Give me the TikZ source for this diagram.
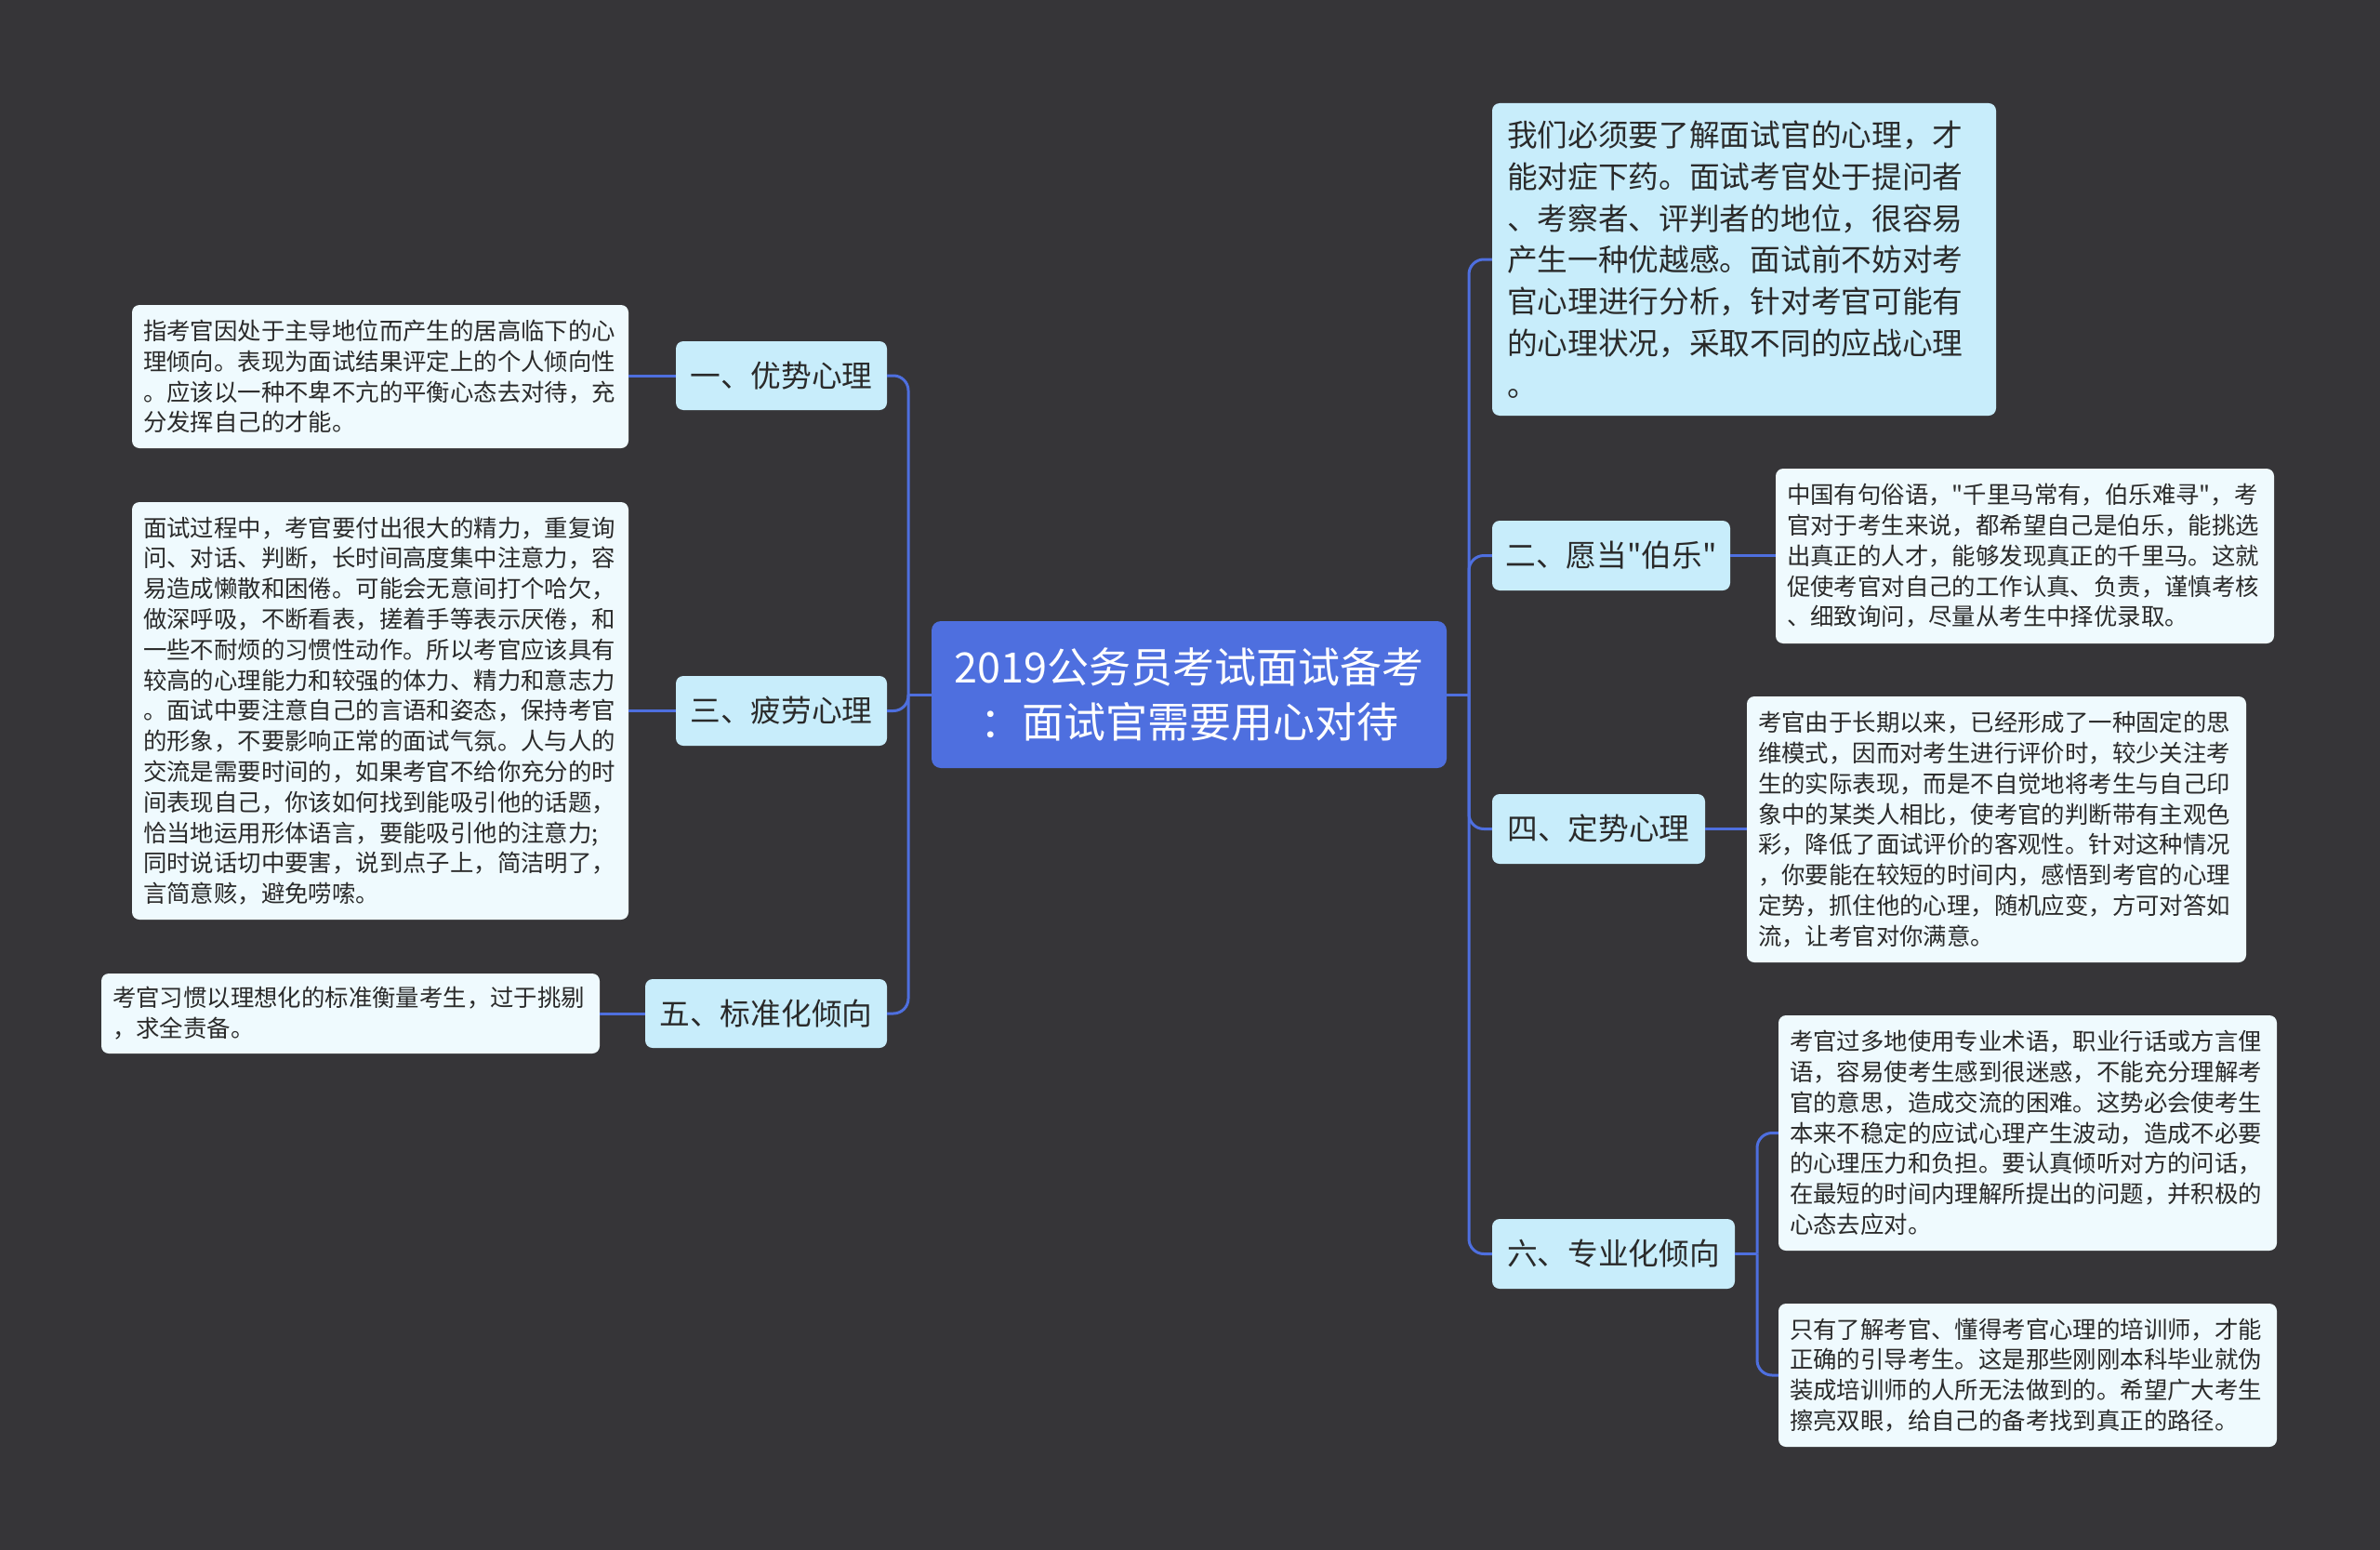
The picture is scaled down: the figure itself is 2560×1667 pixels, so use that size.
\documentclass[tikz,border=0pt]{standalone}
\usepackage{fontspec}
\setmainfont{Noto Sans CJK SC}
\newfontfamily\cjk{Noto Sans CJK SC}
\definecolor{bgc}{HTML}{363538}
\definecolor{rootf}{HTML}{4E6FDF}
\definecolor{linec}{HTML}{4E6FDF}
\definecolor{branchf}{HTML}{C8EDFB}
\definecolor{leaff}{HTML}{EFFAFE}
\definecolor{darkt}{HTML}{2A2A2A}
\tikzset{
  conn/.style={draw=linec, line width=3pt, rounded corners=16pt},
  rootbox/.style={fill=rootf, text=white, rounded corners=10pt, inner sep=0pt, align=center,
    font=\cjk\fontsize{45}{59}\selectfont},
  branchbox/.style={fill=branchf, text=darkt, rounded corners=8pt, inner sep=0pt, align=center,
    font=\cjk\fontsize{32.7}{40}\selectfont},
  topbox/.style={fill=branchf, text=darkt, rounded corners=8pt, inner xsep=16pt, inner ysep=0pt, align=left,
    font=\cjk\fontsize{32.7}{44.8}\selectfont},
  leafbox/.style={fill=leaff, text=darkt, rounded corners=8pt, inner xsep=12pt, inner ysep=0pt, align=left,
    font=\cjk\fontsize{25.4}{32.8}\selectfont},
}
\begin{document}
\begin{tikzpicture}[x=1pt,y=-1pt]
\fill[bgc] (0,0) rectangle (2560,1667);
\useasboundingbox (0,0) rectangle (2560,1667);

% root
\node[rootbox, minimum width=554pt, minimum height=158pt] (root) at (1279,747)
  {2019公务员考试面试备考\\：面试官需要用心对待};

% left branches
\node[branchbox, minimum width=227pt, minimum height=74pt] (b1) at (840.5,404) {一、优势心理};
\node[branchbox, minimum width=227pt, minimum height=75pt] (b3) at (840.5,764.5) {三、疲劳心理};
\node[branchbox, minimum width=260pt, minimum height=74pt] (b5) at (824,1090) {五、标准化倾向};

% right branches
\node[topbox, text width=510pt, minimum height=336pt] (t0) at (1876,279)
  {我们必须要了解面试官的心理，才\\能对症下药。面试考官处于提问者\\、考察者、评判者的地位，很容易\\产生一种优越感。面试前不妨对考\\官心理进行分析，针对考官可能有\\的心理状况，采取不同的应战心理\\。};
\node[branchbox, minimum width=256pt, minimum height=75pt] (b2) at (1733,597.5) {二、愿当"伯乐"};
\node[branchbox, minimum width=229pt, minimum height=75pt] (b4) at (1719.5,891.5) {四、定势心理};
\node[branchbox, minimum width=261pt, minimum height=75pt] (b6) at (1735.5,1348.5) {六、专业化倾向};

% left leaves
\node[leafbox, text width=510pt, minimum height=154pt] (l1) at (409,405)
  {指考官因处于主导地位而产生的居高临下的心\\理倾向。表现为面试结果评定上的个人倾向性\\。应该以一种不卑不亢的平衡心态去对待，充\\分发挥自己的才能。};
\node[leafbox, text width=510pt, minimum height=449pt] (l3) at (409,764.5)
  {面试过程中，考官要付出很大的精力，重复询\\问、对话、判断，长时间高度集中注意力，容\\易造成懒散和困倦。可能会无意间打个哈欠，\\做深呼吸，不断看表，搓着手等表示厌倦，和\\一些不耐烦的习惯性动作。所以考官应该具有\\较高的心理能力和较强的体力、精力和意志力\\。面试中要注意自己的言语和姿态，保持考官\\的形象，不要影响正常的面试气氛。人与人的\\交流是需要时间的，如果考官不给你充分的时\\间表现自己，你该如何找到能吸引他的话题，\\恰当地运用形体语言，要能吸引他的注意力;\\同时说话切中要害，说到点子上，简洁明了，\\言简意赅，避免唠嗦。};
\node[leafbox, text width=512pt, minimum height=86pt] (l5) at (377,1090)
  {考官习惯以理想化的标准衡量考生，过于挑剔\\，求全责备。};

% right leaves
\node[leafbox, text width=512pt, minimum height=188pt] (l2) at (2178,598)
  {中国有句俗语，"千里马常有，伯乐难寻"，考\\官对于考生来说，都希望自己是伯乐，能挑选\\出真正的人才，能够发现真正的千里马。这就\\促使考官对自己的工作认真、负责，谨慎考核\\、细致询问，尽量从考生中择优录取。};
\node[leafbox, text width=513pt, minimum height=286pt] (l4) at (2147.5,892)
  {考官由于长期以来，已经形成了一种固定的思\\维模式，因而对考生进行评价时，较少关注考\\生的实际表现，而是不自觉地将考生与自己印\\象中的某类人相比，使考官的判断带有主观色\\彩，降低了面试评价的客观性。针对这种情况\\，你要能在较短的时间内，感悟到考官的心理\\定势，抓住他的心理，随机应变，方可对答如\\流，让考官对你满意。};
\node[leafbox, text width=512pt, minimum height=253pt] (l6a) at (2181,1218.5)
  {考官过多地使用专业术语，职业行话或方言俚\\语，容易使考生感到很迷惑，不能充分理解考\\官的意思，造成交流的困难。这势必会使考生\\本来不稳定的应试心理产生波动，造成不必要\\的心理压力和负担。要认真倾听对方的问话，\\在最短的时间内理解所提出的问题，并积极的\\心态去应对。};
\node[leafbox, text width=512pt, minimum height=154pt] (l6b) at (2181,1479)
  {只有了解考官、懂得考官心理的培训师，才能\\正确的引导考生。这是那些刚刚本科毕业就伪\\装成培训师的人所无法做到的。希望广大考生\\擦亮双眼，给自己的备考找到真正的路径。};

% connectors
\coordinate (lj) at (977,747);
\coordinate (rj) at (1580,747);
\coordinate (j6) at (1890,1348.5);
\draw[conn] (root.west) -- (lj);
\draw[conn] (lj) |- (b1.east);
\draw[conn] (lj) |- (b3.east);
\draw[conn] (lj) |- (b5.east);
\draw[conn] (root.east) -- (rj);
\draw[conn] (rj) |- (t0.west);
\draw[conn] (rj) |- (b2.west);
\draw[conn] (rj) |- (b4.west);
\draw[conn] (rj) |- (b6.west);
\draw[conn] (b1.west) -- (l1.east |- b1.west);
\draw[conn] (b3.west) -- (l3.east |- b3.west);
\draw[conn] (b5.west) -- (l5.east |- b5.west);
\draw[conn] (b2.east) -- (l2.west |- b2.east);
\draw[conn] (b4.east) -- (l4.west |- b4.east);
\draw[conn] (b6.east) -- (j6);
\draw[conn] (j6) |- (l6a.west);
\draw[conn] (j6) |- (l6b.west);
\end{tikzpicture}
\end{document}
